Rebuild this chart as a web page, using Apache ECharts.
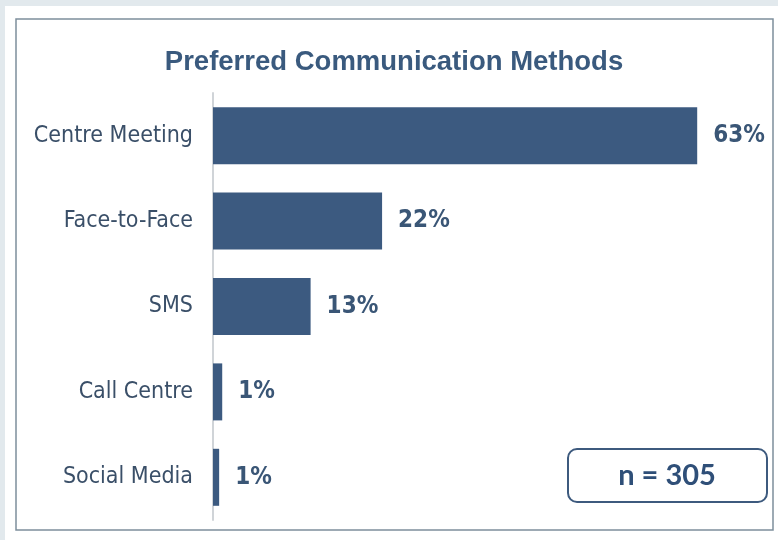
<!DOCTYPE html>
<html>
<head>
<meta charset="utf-8">
<script src="https://cdn.jsdelivr.net/npm/echarts@6/dist/echarts.min.js"></script>
<style>
  html, body { margin: 0; padding: 0; background: #e2e9ed; }
  #chart { width: 778px; height: 540px; }
</style>
</head>
<body>
<div id="chart"></div>
<script>
// categories top to bottom
const categories = ['Centre Meeting', 'Face-to-Face', 'SMS', 'Call Centre', 'Social Media']
// percent values
const values = [63, 22, 12.7, 1.2, 0.8]
const sampleNote = 'n = 305'

const myChart = echarts.init(document.getElementById('chart'))

const option = {
  backgroundColor: '#e2e9ed',
  animation: false,
  title: {
    text: 'Preferred Communication Methods',
    left: 389,
    top: 43,
    textAlign: 'center',
    textStyle: {
      fontFamily: 'Liberation Sans',
      fontWeight: 'bold',
      fontSize: 27.5,
      color: '#3a5a7e',
    },
  },
  graphic: [
    {
      type: 'rect',
      z: -10,
      shape: { x: 5, y: 6, width: 773, height: 534 },
      style: { fill: '#ffffff' },
    },
    {
      type: 'rect',
      z: -9,
      shape: { x: 16, y: 19, width: 757, height: 511 },
      style: { fill: '#ffffff', stroke: '#7d8f9c', lineWidth: 1.5 },
    },
    {
      type: 'rect',
      shape: { x: 568, y: 449, width: 199, height: 53, r: 9 },
      style: { fill: '#ffffff', stroke: '#3d5a7e', lineWidth: 2 },
    },
    {
      type: 'text',
      x: 667,
      y: 476,
      style: {
        text: sampleNote,
        fontFamily: 'Lato',
        fontWeight: 'bold',
        fontSize: 29,
        fill: '#2f4f78',
        align: 'center',
        verticalAlign: 'middle',
      },
    },
  ],
  grid: {
    left: 213,
    right: 27,
    top: 93,
    height: 427,
    containLabel: false,
  },
  xAxis: {
    type: 'value',
    min: 0,
    max: 70,
    show: false,
  },
  yAxis: {
    type: 'category',
    inverse: true,
    data: categories,
    axisLine: { lineStyle: { color: '#d0d4d8', width: 2 } },
    axisTick: { show: false },
    axisLabel: {
      margin: 20,
      padding: [4, 0, 0, 0],
      fontFamily: 'DejaVu Sans Condensed',
      fontSize: 23,
      color: '#3a4f68',
    },
  },
  series: [
    {
      type: 'bar',
      data: values,
      barWidth: 57,
      itemStyle: { color: '#3c5a80' },
      label: {
        show: true,
        position: 'right',
        distance: 16,
        formatter: (p) => Math.round(p.value) + '%',
        fontFamily: 'DejaVu Sans Condensed',
        fontWeight: 'bold',
        fontSize: 24,
        color: '#3a5676',
      },
    },
  ],
}

option && myChart.setOption(option)
</script>
</body>
</html>
